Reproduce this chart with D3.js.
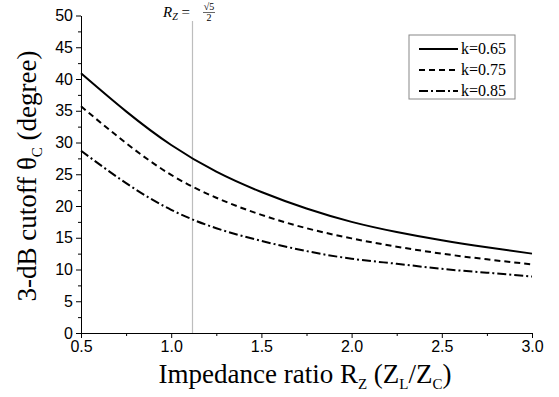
<!DOCTYPE html>
<html>
<head>
<meta charset="utf-8">
<script src="https://cdn.jsdelivr.net/npm/d3@7"></script>
<style>
  body { margin: 0; background: #fff; }
  .tick text { font-family: "Liberation Sans", Arial, sans-serif; font-size: 16px; fill: #000; }
  .axis path, .axis line { stroke: #000; }
</style>
</head>
<body>
<div id="chart"></div>
<script>
// impedance ratio samples
const ratio = [0.5, 0.75, 1.0, 1.25, 1.5, 1.75, 2.0, 2.25, 2.5, 2.75, 3.0];
// 3-dB cutoff angle (degree)
const k065 = [40.9, 34.9, 29.6, 25.4, 22.2, 19.6, 17.5, 15.9, 14.6, 13.5, 12.5];
const k075 = [35.7, 29.9, 24.9, 21.3, 18.6, 16.5, 14.9, 13.6, 12.5, 11.6, 10.8];
const k085 = [28.7, 23.6, 19.4, 16.5, 14.5, 12.9, 11.7, 10.9, 10.1, 9.5, 8.9];
const seriesNames = ['k=0.65', 'k=0.75', 'k=0.85'];
const xTicks = [0.5, 1.0, 1.5, 2.0, 2.5, 3.0];
const yTicks = [0, 5, 10, 15, 20, 25, 30, 35, 40, 45, 50];
const markerX = Math.sqrt(5) / 2;

const width = 559, height = 397;
const margin = {left: 81, right: 27, top: 15.5, bottom: 64};
const dashes = [null, '6,4', '9,3,2,3'];

const svg = d3.select('#chart').append('svg')
  .attr('width', width)
  .attr('height', height);

const x = d3.scaleLinear().domain([0.5, 3.0]).range([margin.left, width - margin.right]);
const y = d3.scaleLinear().domain([0, 50]).range([height - margin.bottom, margin.top]);

// marker line at R_Z = sqrt(5)/2
svg.append('line')
  .attr('x1', x(markerX)).attr('x2', x(markerX))
  .attr('y1', 21).attr('y2', y(0))
  .attr('stroke', '#bdbdbd')
  .attr('stroke-width', 1.2);

// minor ticks first, then major
svg.append('g')
  .attr('class', 'axis')
  .attr('transform', 'translate(0,' + y(0) + ')')
  .call(d3.axisBottom(x).tickValues(d3.range(0.75, 3.0, 0.5)).tickSize(3).tickFormat(''))
  .call(g => g.select('.domain').remove());
svg.append('g')
  .attr('class', 'axis')
  .attr('transform', 'translate(0,' + y(0) + ')')
  .call(d3.axisBottom(x).tickValues(xTicks).tickSize(5).tickSizeOuter(0).tickPadding(3).tickFormat(d3.format('.1f')));

svg.append('g')
  .attr('class', 'axis')
  .attr('transform', 'translate(' + x(0.5) + ',0)')
  .call(d3.axisLeft(y).tickValues(d3.range(2.5, 50, 5)).tickSize(3).tickFormat(''))
  .call(g => g.select('.domain').remove());
svg.append('g')
  .attr('class', 'axis')
  .attr('transform', 'translate(' + x(0.5) + ',0)')
  .call(d3.axisLeft(y).tickValues(yTicks).tickSize(5).tickSizeOuter(0).tickPadding(3));

// curves
const line = d3.line()
  .x((d, i) => x(ratio[i]))
  .y(d => y(d))
  .curve(d3.curveNatural);

[k065, k075, k085].forEach((s, i) => {
  svg.append('path')
    .datum(s)
    .attr('d', line)
    .attr('fill', 'none')
    .attr('stroke', '#000')
    .attr('stroke-width', 2)
    .attr('stroke-dasharray', dashes[i]);
});

// axis titles
const serif = '"Liberation Serif", "Times New Roman", serif';
const xt = svg.append('text')
  .attr('x', 305).attr('y', 383)
  .attr('text-anchor', 'middle')
  .style('font-family', serif)
  .style('font-size', '27px');
xt.append('tspan').text('Impedance ratio R');
xt.append('tspan').attr('dy', 6).style('font-size', '15px').text('Z');
xt.append('tspan').attr('dy', -6).text(' (Z');
xt.append('tspan').attr('dy', 6).style('font-size', '15px').text('L');
xt.append('tspan').attr('dy', -6).text('/Z');
xt.append('tspan').attr('dy', 6).style('font-size', '15px').text('C');
xt.append('tspan').attr('dy', -6).text(')');

const yt = svg.append('text')
  .attr('transform', 'translate(36,176) rotate(-90)')
  .attr('text-anchor', 'middle')
  .style('font-family', serif)
  .style('font-size', '27px');
yt.append('tspan').text('3-dB cutoff θ');
yt.append('tspan').attr('dy', 6).style('font-size', '15px').text('C');
yt.append('tspan').attr('dy', -6).text(' (degree)');

// annotation
const ann = svg.append('g').style('font-family', serif);
const at = ann.append('text')
  .attr('x', 163).attr('y', 17)
  .style('font-size', '15px');
at.append('tspan').style('font-style', 'italic').text('R');
at.append('tspan').attr('dy', 3).style('font-size', '10px').style('font-style', 'italic').text('Z');
at.append('tspan').attr('dy', -3).text(' =');
ann.append('text')
  .attr('x', 209).attr('y', 10)
  .attr('text-anchor', 'middle')
  .style('font-size', '10px')
  .text('√5');
ann.append('line')
  .attr('x1', 203).attr('x2', 215)
  .attr('y1', 12.5).attr('y2', 12.5)
  .attr('stroke', '#000').attr('stroke-width', 0.6);
ann.append('text')
  .attr('x', 209).attr('y', 21)
  .attr('text-anchor', 'middle')
  .style('font-size', '10px')
  .text('2');

// legend
const legend = svg.append('g').attr('transform', 'translate(409,35)');
legend.append('rect')
  .attr('width', 106).attr('height', 64)
  .attr('fill', '#fff')
  .attr('stroke', '#888')
  .attr('stroke-width', 1);
seriesNames.forEach((name, i) => {
  const cy = 14 + i * 21;
  legend.append('line')
    .attr('x1', 10).attr('x2', 49)
    .attr('y1', cy).attr('y2', cy)
    .attr('stroke', '#000')
    .attr('stroke-width', 2)
    .attr('stroke-dasharray', dashes[i]);
  legend.append('text')
    .attr('x', 52).attr('y', cy + 5)
    .style('font-family', serif)
    .style('font-size', '16px')
    .text(name);
});
</script>
</body>
</html>
